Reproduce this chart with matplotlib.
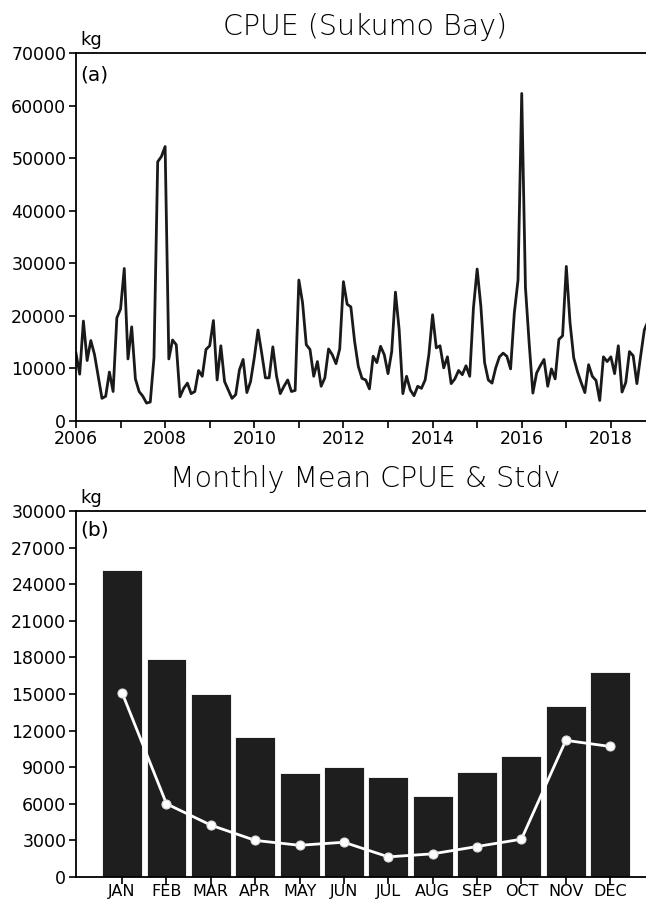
import numpy as np
import matplotlib.pyplot as plt

# monthly CPUE, Sukumo Bay, from Jan 2006 (kg)
cpue = [12900, 8900, 19000, 11500, 15300, 12600, 8500, 4300, 4700, 9300, 5600, 19600,
        21300, 29000, 11800, 17900, 8000, 5600, 4700, 3400, 3600, 12000, 49300, 50300,
        52200, 11800, 15400, 14500, 4600, 6200, 7200, 5200, 5600, 9600, 8500, 13600,
        14300, 19100, 7800, 14300, 7500, 5900, 4300, 5000, 9700, 11700, 5400, 7500,
        12000, 17300, 12900, 8200, 8200, 14100, 8500, 5200, 6600, 7800, 5600, 5800,
        26800, 22500, 14500, 13600, 8500, 11300, 6600, 8200, 13700, 12600, 10900, 13700,
        26500, 22200, 21700, 15200, 10400, 8100, 7800, 6100, 12300, 11100, 14200, 12600,
        9000, 13200, 24500, 17400, 5200, 8500, 5900, 4800, 6600, 6200, 7800, 12600,
        20200, 13900, 14300, 10100, 12200, 7100, 8000, 9600, 8800, 10500, 8500, 21500,
        28900, 21800, 11100, 7800, 7200, 10100, 12200, 12900, 12300, 9900, 20500, 26800,
        62300, 25400, 14800, 5300, 9100, 10500, 11700, 6600, 9900, 8000, 15500, 16200,
        29400, 18700, 12000, 9400, 7300, 5400, 10700, 8500, 7700, 3900, 12200, 11300,
        12200, 9000, 14300, 5500, 7300, 13200, 12400, 7100, 12300, 17300, 19000]
start_year = 2006

months = ['JAN', 'FEB', 'MAR', 'APR', 'MAY', 'JUN', 'JUL', 'AUG', 'SEP', 'OCT', 'NOV', 'DEC']
month_mean = [25200, 17900, 15000, 11500, 8500, 9000, 8200, 6600, 8600, 9900, 14000, 16800]
month_std = [15100, 6000, 4250, 3000, 2600, 2850, 1650, 1900, 2500, 3100, 11200, 10700]

plt.rcParams['font.family'] = 'DejaVu Sans'
plt.rcParams['font.size'] = 12.5

fig = plt.figure(figsize=(6.46, 9.02), dpi=100)

# (a) time series
ax1 = fig.add_axes([0.1176, 0.5333, 0.886, 0.408])
t = start_year + np.arange(len(cpue)) / 12.0
ax1.plot(t, cpue, color='#1a1a1a', lw=2.0)
ax1.set_xlim(2006, 2018.84)
ax1.set_ylim(0, 70000)
ax1.set_yticks(np.arange(0, 70001, 10000))
ax1.set_xticks(np.arange(2006, 2019, 2))
ax1.set_xticks(np.arange(2006, 2019, 1), minor=True)
ax1.tick_params(which='both', direction='out', length=5, width=1.2)
ax1.tick_params(axis='x', pad=1.5)
ax1.tick_params(axis='y', pad=2)
ax1.spines['right'].set_visible(False)
for s in ['left', 'bottom', 'top']:
    ax1.spines[s].set_linewidth(1.3)
ax1.text(0.007, 0.965, '(a)', transform=ax1.transAxes, fontsize=14.5, va='top')
ax1.text(0.007, 1.012, 'kg', transform=ax1.transAxes, fontsize=13, va='bottom')
fig.text(0.565, 0.970, 'CPUE (Sukumo Bay)', ha='center', va='center',
         fontsize=20.5, family='DejaVu Sans', fontweight=200, color='black')

# (b) monthly mean and stdv
ax2 = fig.add_axes([0.1176, 0.0277, 0.886, 0.4058])
x = np.arange(1, 13)
ax2.bar(x, month_mean, width=0.9, color='#1e1e1e', edgecolor='white', lw=0.6)
ax2.plot(x, month_std, color='white', lw=2, marker='o', ms=6.5,
         markerfacecolor='white', markeredgecolor='#dddddd', markeredgewidth=0.8)
ax2.set_xlim(-0.04, 12.86)
ax2.set_ylim(0, 30000)
ax2.set_yticks(np.arange(0, 30001, 3000))
ax2.set_xticks(x)
ax2.set_xticklabels(months, fontsize=11.5)
ax2.tick_params(direction='out', length=5, width=1.2)
ax2.tick_params(axis='x', pad=0)
ax2.tick_params(axis='y', pad=2)
ax2.spines['right'].set_visible(False)
for s in ['left', 'bottom', 'top']:
    ax2.spines[s].set_linewidth(1.3)
ax2.text(0.007, 0.975, '(b)', transform=ax2.transAxes, fontsize=14.5, va='top')
ax2.text(0.007, 1.012, 'kg', transform=ax2.transAxes, fontsize=13, va='bottom')
fig.text(0.565, 0.469, 'Monthly Mean CPUE & Stdv', ha='center', va='center',
         fontsize=20.5, family='DejaVu Sans', fontweight=200, color='black')

fig.savefig('out.png', dpi=100)
